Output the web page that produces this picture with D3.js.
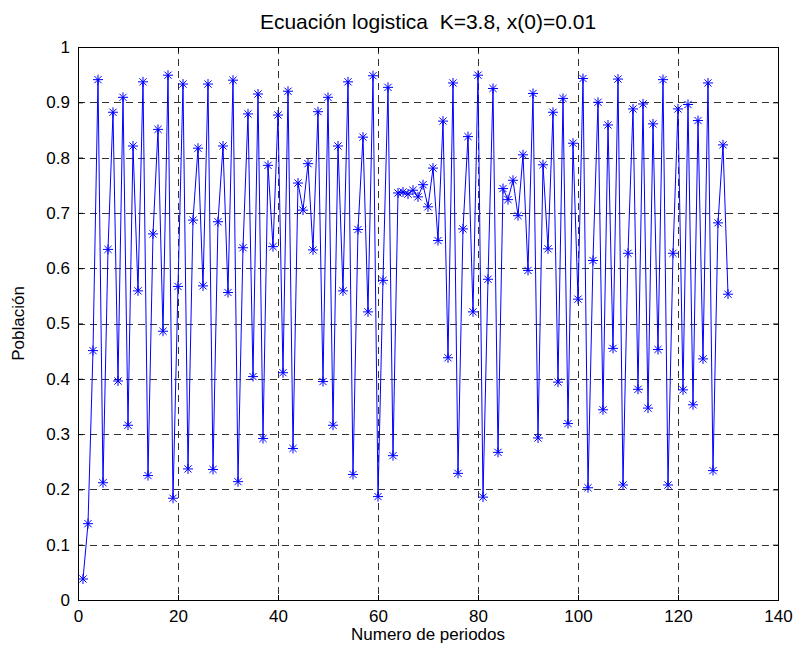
<!DOCTYPE html>
<html>
<head>
<meta charset="utf-8">
<script src="https://cdn.jsdelivr.net/npm/d3@7/dist/d3.min.js"></script>
<style>
  html, body { margin: 0; padding: 0; background: #fff; }
  svg { display: block; }
  text { font-family: "Liberation Sans", Arial, Helvetica, sans-serif; fill: #000; white-space: pre; }
</style>
</head>
<body>
<svg id="chart" width="795" height="655"></svg>
<script>
const titleText = "Ecuación logistica  K=3.8, x(0)=0.01";
const xLabel = "Numero de periodos";
const yLabel = "Población";
const xTicks = [0, 20, 40, 60, 80, 100, 120, 140];
const yTicks = [0, 0.1, 0.2, 0.3, 0.4, 0.5, 0.6, 0.7, 0.8, 0.9, 1];
const population = [
  0.038, 0.138, 0.451, 0.941, 0.212, 0.634, 0.882, 0.396, 0.909, 0.316,
  0.821, 0.559, 0.937, 0.225, 0.662, 0.851, 0.486, 0.949, 0.184, 0.567,
  0.933, 0.237, 0.687, 0.817, 0.568, 0.933, 0.236, 0.684, 0.821, 0.556,
  0.940, 0.214, 0.637, 0.879, 0.404, 0.915, 0.292, 0.786, 0.639, 0.877,
  0.411, 0.920, 0.274, 0.754, 0.705, 0.789, 0.633, 0.883, 0.395, 0.909,
  0.316, 0.821, 0.559, 0.937, 0.227, 0.670, 0.837, 0.521, 0.948, 0.187,
  0.578, 0.927, 0.261, 0.736, 0.738, 0.734, 0.741, 0.729, 0.751, 0.711,
  0.781, 0.650, 0.866, 0.438, 0.935, 0.229, 0.671, 0.838, 0.521, 0.949,
  0.186, 0.580, 0.925, 0.267, 0.744, 0.724, 0.759, 0.695, 0.805, 0.596,
  0.916, 0.293, 0.787, 0.635, 0.882, 0.394, 0.907, 0.319, 0.826, 0.544,
  0.943, 0.203, 0.614, 0.900, 0.344, 0.859, 0.455, 0.942, 0.208, 0.627,
  0.888, 0.381, 0.897, 0.347, 0.861, 0.453, 0.941, 0.208, 0.627, 0.888,
  0.380, 0.896, 0.353, 0.867, 0.436, 0.935, 0.234, 0.682, 0.823, 0.553
];
const periods = population.map((d, i) => i + 1);
const data = periods.map((p, i) => ({ p, v: population[i] }));

const svg = d3.select("#chart");
const margin = { left: 78, right: 17, top: 47, bottom: 55 };
const W = 795, H = 655;
const x = d3.scaleLinear().domain([0, 140]).range([margin.left, W - margin.right]);
const y = d3.scaleLinear().domain([0, 1]).range([H - margin.bottom, margin.top]);

svg.append("rect").attr("width", W).attr("height", H).attr("fill", "#fff");

// grid
const grid = svg.append("g").attr("stroke", "#333").attr("stroke-width", 1)
  .attr("stroke-dasharray", "7,5").attr("shape-rendering", "crispEdges");
xTicks.filter(t => t > 0 && t < 140).forEach(t => {
  grid.append("line").attr("x1", Math.round(x(t)) + 0.5).attr("x2", Math.round(x(t)) + 0.5)
    .attr("y1", y(1)).attr("y2", y(0));
});
yTicks.filter(t => t > 0 && t < 1).forEach(t => {
  grid.append("line").attr("y1", Math.round(y(t)) + 0.5).attr("y2", Math.round(y(t)) + 0.5)
    .attr("x1", x(0)).attr("x2", x(140));
});

// axes
const fs = 17;
const axB = svg.append("g").attr("transform", `translate(0,${y(0)})`)
  .call(d3.axisBottom(x).tickValues(xTicks).tickSize(-5).tickPadding(10).tickFormat(d3.format("d")));
const axT = svg.append("g").attr("transform", `translate(0,${y(1)})`)
  .call(d3.axisTop(x).tickValues(xTicks).tickSize(-5).tickFormat(""));
const axL = svg.append("g").attr("transform", `translate(${x(0)},0)`)
  .call(d3.axisLeft(y).tickValues(yTicks).tickSize(-5).tickPadding(8).tickFormat(d => d3.format("")(+d.toFixed(1))));
const axR = svg.append("g").attr("transform", `translate(${x(140)},0)`)
  .call(d3.axisRight(y).tickValues(yTicks).tickSize(-5).tickFormat(""));
[axB, axT, axL, axR].forEach(a => {
  a.select(".domain").remove();
  a.selectAll("line").attr("stroke", "#000");
  a.selectAll("text").attr("font-size", fs).attr("font-family", '"Liberation Sans", Arial, sans-serif').attr("fill", "#000");
});

// box
svg.append("rect").attr("x", x(0)).attr("y", y(1)).attr("width", x(140) - x(0)).attr("height", y(0) - y(1))
  .attr("fill", "none").attr("stroke", "#000").attr("stroke-width", 1).attr("shape-rendering", "crispEdges");

// line
const line = d3.line().x(d => x(d.p)).y(d => y(d.v));
svg.append("path").datum(data).attr("d", line).attr("fill", "none").attr("stroke", "#0000ff").attr("stroke-width", 1);

// asterisk markers
const r = 5, rd = 3.6;
const star = `M${-r},0L${r},0M0,${-r}L0,${r}M${-rd},${-rd}L${rd},${rd}M${-rd},${rd}L${rd},${-rd}`;
svg.append("g").selectAll("path").data(data).join("path")
  .attr("transform", d => `translate(${x(d.p)},${y(d.v)})`)
  .attr("d", star).attr("fill", "none").attr("stroke", "#0000ff").attr("stroke-width", 1);

// labels
svg.append("text").attr("x", (x(0) + x(140)) / 2).attr("y", 29).attr("text-anchor", "middle")
  .attr("font-size", 21).attr("xml:space", "preserve").text(titleText);
svg.append("text").attr("x", (x(0) + x(140)) / 2).attr("y", 640).attr("text-anchor", "middle")
  .attr("font-size", 17).text(xLabel);
svg.append("text").attr("transform", `translate(24,${(y(0) + y(1)) / 2}) rotate(-90)`).attr("text-anchor", "middle")
  .attr("font-size", 17).text(yLabel);
</script>
</body>
</html>
